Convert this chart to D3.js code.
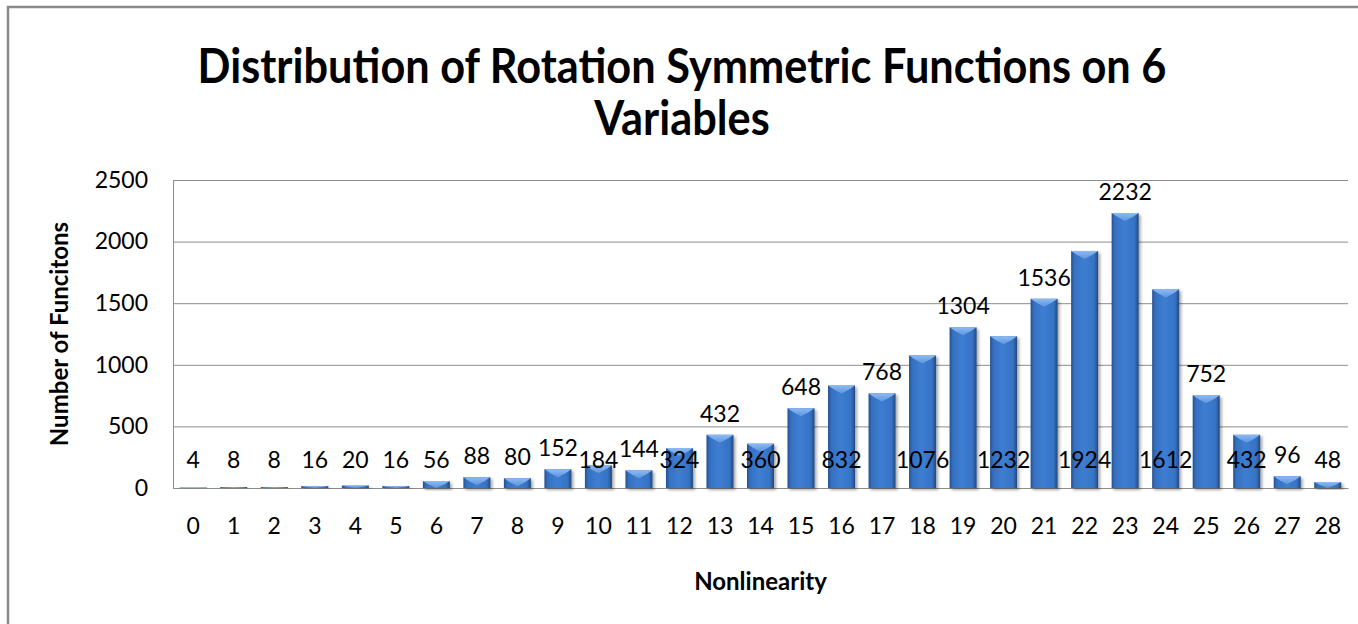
<!DOCTYPE html>
<html>
<head>
<meta charset="utf-8">
<script src="https://cdn.jsdelivr.net/npm/d3@7"></script>
<style>
  body { margin: 0; background: #fff; }
  svg text { font-family: Lato, "Open Sans", sans-serif; fill: #000; }
  .tick-label { font-size: 23px; }
  .bar-label { font-size: 23px; }
  .axis-title { font-size: 24px; font-weight: bold; }
  .chart-title { font-size: 48px; font-weight: bold; }
</style>
</head>
<body>
<div id="chart"></div>
<script>
// values
const nonlinearity = ["0","1","2","3","4","5","6","7","8","9","10","11","12","13","14",
  "15","16","17","18","19","20","21","22","23","24","25","26","27","28"];
const counts = [4, 8, 8, 16, 20, 16, 56, 88, 80, 152, 184, 144, 324, 432, 360,
  648, 832, 768, 1076, 1304, 1232, 1536, 1924, 2232, 1612, 752, 432, 96, 48];
const yTicks = [0, 500, 1000, 1500, 2000, 2500];
const titleLines = ["Distribution of Rotation Symmetric Functions on 6", "Variables"];

const width = 1358, height = 624;
const margin = {top: 180, right: 10, bottom: 136, left: 173};
const innerW = width - margin.left - margin.right;
const innerH = height - margin.top - margin.bottom;

const svg = d3.select("#chart").append("svg")
    .attr("width", width)
    .attr("height", height);

// bar shading
const defs = svg.append("defs");
const grad = defs.append("linearGradient")
    .attr("id", "barGrad")
    .attr("x1", "0%").attr("x2", "100%").attr("y1", "0%").attr("y2", "0%");
[["0%", "#24508f"], ["12%", "#3670c0"], ["45%", "#3d7ed2"], ["85%", "#3673c4"], ["100%", "#22497f"]]
  .forEach(([o, c]) => grad.append("stop").attr("offset", o).attr("stop-color", c));

const bevelGrad = defs.append("linearGradient")
    .attr("id", "bevelGrad")
    .attr("x1", "0%").attr("x2", "0%").attr("y1", "0%").attr("y2", "100%");
bevelGrad.append("stop").attr("offset", "0%").attr("stop-color", "#8dbaf2");
bevelGrad.append("stop").attr("offset", "100%").attr("stop-color", "#5d95de");

const shadow = defs.append("filter").attr("id", "shadow")
    .attr("x", "-20%").attr("y", "-20%").attr("width", "150%").attr("height", "150%");
shadow.append("feDropShadow")
    .attr("dx", 2).attr("dy", 2).attr("stdDeviation", 1.5)
    .attr("flood-color", "#000").attr("flood-opacity", 0.35);

// outer frame (runs past the right and bottom edges)
svg.append("rect")
    .attr("x", 8).attr("y", 7)
    .attr("width", width + 20).attr("height", height + 20)
    .attr("fill", "none")
    .attr("stroke", "#8a8a8a")
    .attr("stroke-width", 2.5);

const g = svg.append("g")
    .attr("transform", `translate(${margin.left},${margin.top})`);

const x = d3.scaleBand()
    .domain(nonlinearity)
    .range([0, innerW])
    .paddingInner(1 / 3)
    .paddingOuter(1 / 6);

const y = d3.scaleLinear()
    .domain([0, 2500])
    .range([innerH, 0]);

// gridlines + y axis
const yAxis = d3.axisLeft(y)
    .tickValues(yTicks)
    .tickFormat(d3.format("d"))
    .tickSize(-innerW)
    .tickPadding(25);
const yAxisG = g.append("g").call(yAxis)
    .attr("font-family", null).attr("font-size", null);
yAxisG.select(".domain").attr("stroke", "#8c8c8c");
yAxisG.selectAll(".tick line").attr("stroke", "#8c8c8c");
yAxisG.selectAll(".tick text").attr("class", "tick-label");

// x axis
const xAxis = d3.axisBottom(x).tickSize(0).tickPadding(30);
const xAxisG = g.append("g")
    .attr("transform", `translate(0,${innerH})`)
    .call(xAxis)
    .attr("font-family", null).attr("font-size", null);
xAxisG.select(".domain").attr("stroke", "#8c8c8c");
xAxisG.selectAll(".tick text").attr("class", "tick-label");

// bars
const bars = g.selectAll(".bar")
    .data(counts)
  .join("g")
    .attr("class", "bar")
    .attr("filter", "url(#shadow)");

bars.append("rect")
    .attr("x", (d, i) => x(nonlinearity[i]))
    .attr("y", d => y(d))
    .attr("width", x.bandwidth())
    .attr("height", d => innerH - y(d))
    .attr("fill", "url(#barGrad)");

bars.append("path")
    .attr("fill", "url(#bevelGrad)")
    .attr("d", (d, i) => {
      const x0 = x(nonlinearity[i]), w = x.bandwidth(), top = y(d);
      const b = Math.min(8, innerH - top);
      return `M${x0},${top}L${x0 + w},${top}L${x0 + w - 6},${top + b * 0.5}L${x0 + w / 2},${top + b}L${x0 + 6},${top + b * 0.5}Z`;
    });

// value labels: every other bar from 10 to 26 sits low, others ride on top
g.selectAll(".bar-label")
    .data(counts)
  .join("text")
    .attr("class", "bar-label")
    .attr("text-anchor", "middle")
    .attr("x", (d, i) => x(nonlinearity[i]) + x.bandwidth() / 2)
    .attr("y", (d, i) => {
      const low = innerH - 20;
      if (i >= 10 && i <= 26 && i % 2 === 0) return low;
      return Math.min(y(d) - 13, low);
    })
    .text(d => d);

// title, squeezed sideways like the narrow original face
const titleG = svg.append("g");
const title = titleG.append("text")
    .attr("class", "chart-title")
    .attr("text-anchor", "middle");
title.selectAll("tspan")
    .data(titleLines)
  .join("tspan")
    .attr("x", 0)
    .attr("y", (d, i) => 83 + i * 52)
    .text(d => d);
const firstLineW = title.select("tspan").node().getComputedTextLength();
titleG.attr("transform", `translate(682,0) scale(${969 / firstLineW},1)`);

svg.append("text")
    .attr("class", "axis-title")
    .attr("text-anchor", "middle")
    .attr("transform", `translate(68,${margin.top + innerH / 2}) rotate(-90)`)
    .text("Number of Funcitons");

svg.append("text")
    .attr("class", "axis-title")
    .attr("text-anchor", "middle")
    .attr("x", margin.left + innerW / 2)
    .attr("y", 590)
    .text("Nonlinearity");
</script>
</body>
</html>
